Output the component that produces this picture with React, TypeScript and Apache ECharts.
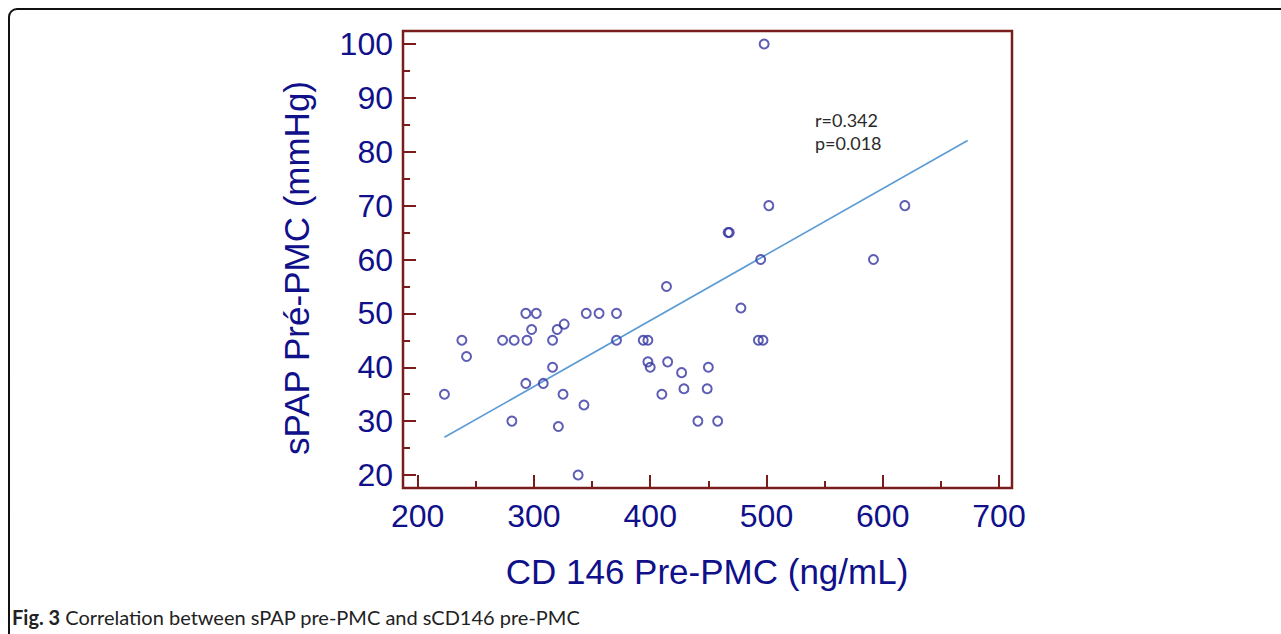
import React, { useEffect, useRef } from "react";
import * as echarts from "echarts";

// CD146 pre-PMC (ng/mL)
const cd146 = [
  223, 238, 242, 273, 283, 281, 293, 302, 294, 298, 293, 308, 316, 316, 320, 326,
  325, 321, 338, 343, 345, 356, 371, 371, 394, 398, 398, 400, 414, 415, 410, 427,
  429, 441, 450, 449, 458, 467, 468, 478, 493, 497, 495, 498, 502, 592, 619,
];
// sPAP pre-PMC (mmHg)
const spap = [
  35, 45, 42, 45, 45, 30, 50, 50, 45, 47, 37, 37, 45, 40, 47, 48,
  35, 29, 20, 33, 50, 50, 50, 45, 45, 45, 41, 40, 55, 41, 35, 39,
  36, 30, 40, 36, 30, 65, 65, 51, 45, 45, 60, 100, 70, 60, 70,
];
// regression line end points
const fitX = [223, 673];
const fitY = [27.0, 82.1];

const xTicks = { min: 200, max: 700, interval: 100 };
const yTicks = { min: 20, max: 100, interval: 10 };

const xTitle = "CD 146 Pre-PMC (ng/mL)";
const yTitle = "sPAP Pré-PMC (mmHg)";
const statLines = ["r=0.342", "p=0.018"];
const captionBold = "Fig. 3";
const captionText = " Correlation between sPAP pre-PMC and sCD146 pre-PMC";

const MAROON = "#7a1c1c";
const NAVY = "#10108a";

export default function App() {
  const ref = useRef<HTMLDivElement>(null);
  useEffect(() => {
    if (!ref.current) return;
    const chart = echarts.init(ref.current, undefined, { renderer: "svg" });
    const points = cd146.map((x, i) => [x, spap[i]]);
    const fit = fitX.map((x, i) => [x, fitY[i]]);
    const labelStyle = {
      color: NAVY,
      fontFamily: "Liberation Sans, Arial, sans-serif",
      fontSize: 32,
    };
    chart.setOption({
      animation: false,
      backgroundColor: "#ffffff",
      grid: { left: 417.7, right: 282, top: 44, bottom: 159, containLabel: false },
      xAxis: {
        type: "value",
        min: xTicks.min,
        max: xTicks.max,
        interval: xTicks.interval,
        offset: 13,
        axisLine: { show: false },
        axisTick: { show: true, inside: true, length: 13, lineStyle: { color: MAROON, width: 2 } },
        minorTick: { show: true, splitNumber: 2, length: 7, lineStyle: { color: MAROON, width: 2 } },
        splitLine: { show: false },
        axisLabel: { ...labelStyle, margin: 12 },
      },
      yAxis: {
        type: "value",
        min: yTicks.min,
        max: yTicks.max,
        interval: yTicks.interval,
        offset: 14.7,
        axisLine: { show: false },
        axisTick: { show: true, inside: true, length: 13, lineStyle: { color: MAROON, width: 2 } },
        minorTick: { show: true, splitNumber: 2, length: 7, lineStyle: { color: MAROON, width: 2 } },
        splitLine: { show: false },
        axisLabel: { ...labelStyle, margin: 10 },
      },
      series: [
        {
          type: "line",
          data: fit,
          symbol: "none",
          lineStyle: { color: "#5b9bd5", width: 1.6 },
          silent: true,
          z: 2,
        },
        {
          type: "scatter",
          data: points,
          symbol: "circle",
          symbolSize: 9,
          clip: false,
          itemStyle: { color: "rgba(0,0,0,0)", borderColor: "#3434a2", borderWidth: 2 },
          z: 3,
        },
      ],
      graphic: [
        {
          type: "rect",
          shape: { x: 9, y: 9, width: 1400, height: 800, r: 8 },
          style: { fill: "none", stroke: "#111111", lineWidth: 2 },
          silent: true,
        },
        {
          type: "rect",
          shape: { x: 403, y: 31, width: 609, height: 457 },
          style: { fill: "none", stroke: MAROON, lineWidth: 2.5 },
          silent: true,
        },
        {
          type: "text",
          x: 707,
          y: 571,
          style: {
            text: xTitle,
            fill: NAVY,
            font: "35px 'Liberation Sans', Arial, sans-serif",
            align: "center",
            verticalAlign: "middle",
          },
        },
        {
          type: "text",
          x: 296,
          y: 268,
          rotation: Math.PI / 2,
          style: {
            text: yTitle,
            fill: NAVY,
            font: "35px 'Liberation Sans', Arial, sans-serif",
            align: "center",
            verticalAlign: "middle",
          },
        },
        {
          type: "text",
          x: 815,
          y: 120,
          style: {
            text: statLines[0],
            fill: "#2a2a2a",
            font: "18px Lato, sans-serif",
            align: "left",
            verticalAlign: "middle",
          },
        },
        {
          type: "text",
          x: 815,
          y: 143,
          style: {
            text: statLines[1],
            fill: "#2a2a2a",
            font: "18px Lato, sans-serif",
            align: "left",
            verticalAlign: "middle",
          },
        },
        {
          type: "text",
          x: 12,
          y: 617,
          style: {
            text: "{b|" + captionBold + "}{n|" + captionText + "}",
            verticalAlign: "middle",
            align: "left",
            rich: {
              b: { fontFamily: "Lato", fontWeight: "bold", fontSize: 20, fill: "#222" },
              n: { fontFamily: "Lato", fontWeight: "normal", fontSize: 20, fill: "#222" },
            },
          },
        },
      ],
    });
    return () => chart.dispose();
  }, []);
  return (
    <div
      ref={ref}
      style={{ position: "fixed", left: 0, top: 0, width: 1281, height: 634, background: "#fff" }}
    />
  );
}
